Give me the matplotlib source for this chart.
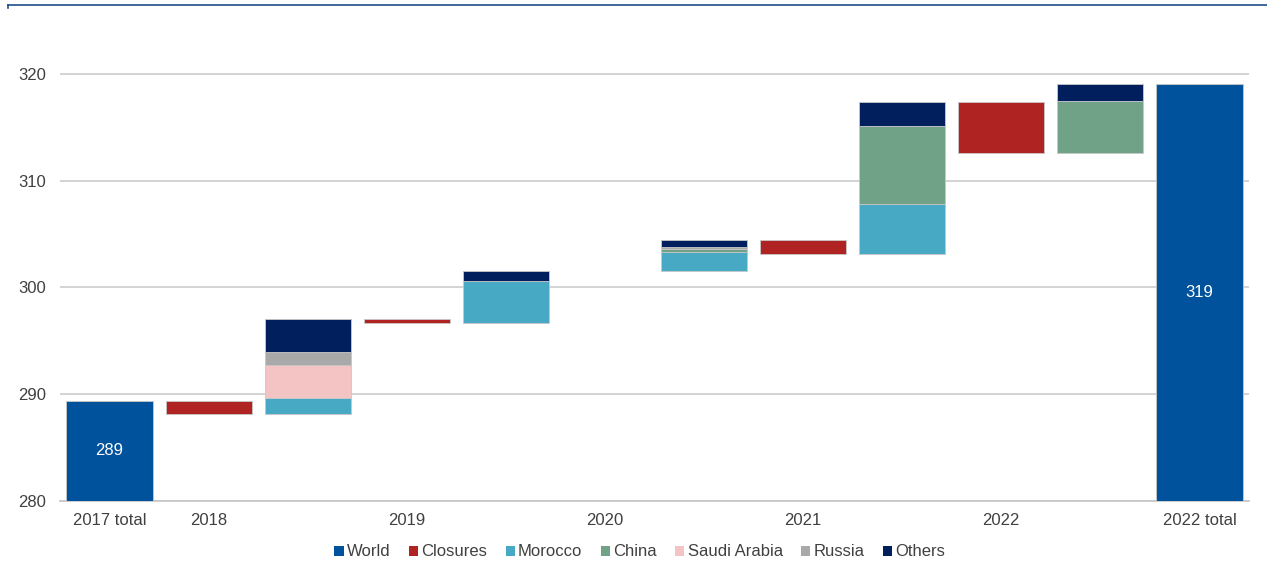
import matplotlib
matplotlib.use("Agg")
import matplotlib.pyplot as plt
from matplotlib.patches import Patch
from matplotlib.lines import Line2D

plt.rcParams["font.family"] = ["Liberation Sans", "DejaVu Sans"]

# Phosphate capacity bridge, 2017 -> 2022
start_label = "2017 total"
end_label = "2022 total"
start_total = 289.3
years = ["2018", "2019", "2020", "2021", "2022"]
closures = [-1.2, -0.4, 0.0, -1.3, -4.8]
morocco = [1.5, 3.9, 1.8, 4.65, 0.0]
china = [0.0, 0.0, 0.3, 7.35, 4.95]
saudi = [3.1, 0.0, 0.0, 0.0, 0.0]
russia = [1.2, 0.0, 0.2, 0.0, 0.0]
others = [3.15, 0.95, 0.65, 2.2, 1.55]

series_names = ["Morocco", "China", "Saudi Arabia", "Russia", "Others"]
series_values = [morocco, china, saudi, russia, others]
colors = {
    "World": "#00529C",
    "Closures": "#B02323",
    "Morocco": "#48A9C5",
    "China": "#6FA287",
    "Saudi Arabia": "#F4C3C4",
    "Russia": "#A9A9A9",
    "Others": "#001F5C",
}

W, H = 1267, 570
fig = plt.figure(figsize=(W / 100, H / 100), dpi=100)
ax = fig.add_axes([60 / W, (570 - 500.6) / H, 1189 / W, 0.8423])

bw = 0.87
edge = dict(edgecolor="#c8c8c8", linewidth=0.6)

# opening total
ax.bar(0, start_total - 280, bottom=280, width=bw, color=colors["World"], zorder=3, **edge)
ax.text(0, (280 + start_total) / 2, f"{start_total:.0f}", ha="center", va="center",
        color="white", fontsize=12, zorder=4)

level = start_total
tick_pos, tick_lab = [0], [start_label]
for i, yr in enumerate(years):
    xc = 1 + 2 * i
    xa = xc + 1
    tick_pos.append(xc)
    tick_lab.append(yr)
    c = closures[i]
    if c != 0:
        ax.bar(xc, -c, bottom=level + c, width=bw, color=colors["Closures"], zorder=3, **edge)
    level += c
    for name, vals in zip(series_names, series_values):
        v = vals[i]
        if v > 0:
            ax.bar(xa, v, bottom=level, width=bw, color=colors[name], zorder=3, **edge)
            level += v

# closing total
end_x = 2 * len(years) + 1
ax.bar(end_x, level - 280, bottom=280, width=bw, color=colors["World"], zorder=3, **edge)
ax.text(end_x, (280 + level) / 2, f"{level:.0f}", ha="center", va="center",
        color="white", fontsize=12, zorder=4)
tick_pos.append(end_x)
tick_lab.append(end_label)

ax.set_xlim(-0.5, end_x + 0.5)
ax.set_ylim(280, 325)
ax.set_yticks([280, 290, 300, 310, 320])
ax.set_xticks(tick_pos)
ax.set_xticklabels(tick_lab)
ax.tick_params(axis="both", length=0, labelsize=12, colors="#404040")
ax.tick_params(axis="y", pad=10)
ax.tick_params(axis="x", pad=9)
ax.yaxis.grid(True, color="#d0d0d0", linewidth=1.3, zorder=0)
ax.set_axisbelow(True)
for s in ["top", "right", "left"]:
    ax.spines[s].set_visible(False)
ax.spines["bottom"].set_color("#c8c8c8")
ax.spines["bottom"].set_linewidth(1.3)

handles = [Patch(facecolor=colors[k], edgecolor="none") for k in colors]
fig.legend(handles, list(colors.keys()), loc="center", bbox_to_anchor=(0.505, 1 - 552 / H),
           ncol=7, frameon=False, fontsize=12, handlelength=0.55, handleheight=0.55,
           handletextpad=0.2, columnspacing=1.1, labelcolor="#404040")

# header rule
fig.add_artist(Line2D([8 / W, 1.0], [1 - 5 / H, 1 - 5 / H], color="#1F4E8C", linewidth=1.2))
fig.add_artist(Line2D([8 / W, 8 / W], [1 - 5 / H, 1 - 8 / H], color="#1F4E8C", linewidth=1.2))

fig.savefig("out.png", dpi=100)
